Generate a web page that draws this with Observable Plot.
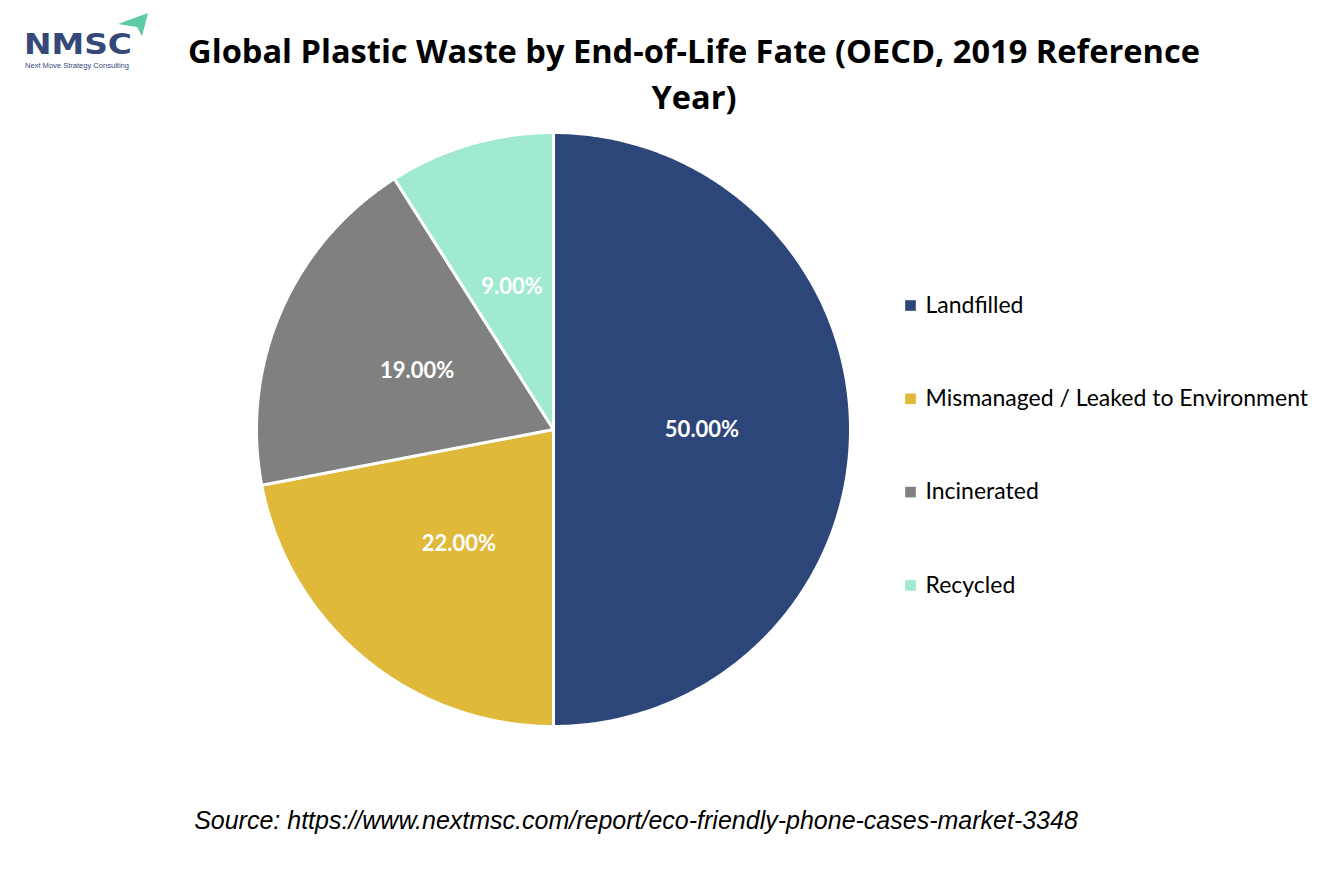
<!DOCTYPE html>
<html><head><meta charset="utf-8">
<script src="https://cdn.jsdelivr.net/npm/d3@7"></script>
<script src="https://cdn.jsdelivr.net/npm/@observablehq/plot@0.6"></script>
<style>
body{margin:0;background:#fff;}
#wrap{position:relative;width:1334px;height:889px;overflow:hidden;background:#fff;}
#title{position:absolute;left:94px;top:28px;width:1200px;text-align:center;font-family:"Open Sans",sans-serif;font-weight:700;font-size:32.6px;line-height:46px;color:#000;}
#caption{position:absolute;left:0;top:806px;width:1272px;text-align:center;font-family:"Liberation Sans",Arial,sans-serif;font-style:italic;font-size:25px;color:#000;}
#logo{position:absolute;left:20px;top:10px;}
#chart{position:absolute;left:0;top:0;}
</style></head>
<body>
<div id="wrap">
<div id="chart"></div>
<div id="title">Global Plastic Waste by End-of-Life Fate (OECD, 2019 Reference<br>Year)</div>
<div id="caption">Source: https://www.nextmsc.com/report/eco-friendly-phone-cases-market-3348</div>
<svg id="logo" width="140" height="62" viewBox="0 0 140 62">
  <text x="4" y="44" font-family="DejaVu Sans,sans-serif" font-weight="bold" font-size="29" fill="#34487a" textLength="108" lengthAdjust="spacingAndGlyphs">NMSC</text>
  <polygon points="98,14 128,3 122,26 117,17" fill="#5cc9a7"/>
  <text x="5" y="58" font-family="Liberation Sans,sans-serif" font-size="6.5" fill="#34487a" textLength="104" lengthAdjust="spacingAndGlyphs">Next Move Strategy Consulting</text>
</svg>
</div>
<script>
const categories = ["Landfilled", "Mismanaged / Leaked to Environment", "Incinerated", "Recycled"];
const values = [50, 22, 19, 9];
const colors = ["#2c4679", "#e0b83a", "#808080", "#a0ebd0"];
const labels = ["50.00%", "22.00%", "19.00%", "9.00%"];

const data = categories.map((c, i) => ({category: c, value: values[i], color: colors[i], label: labels[i]}));

// layout
const W = 1334, H = 889;
const cx = 553, cy = 429, R = 297;

const arcs = d3.pie().sort(null).value(d => d.value)(data);
const slices = [];
arcs.forEach((a, i) => {
  const n = Math.max(2, Math.ceil((a.endAngle - a.startAngle) / 0.01));
  slices.push({k: i, px: cx, py: cy, color: a.data.color});
  for (let j = 0; j <= n; j++) {
    const t = a.startAngle + (a.endAngle - a.startAngle) * j / n;
    slices.push({k: i, px: cx + R * Math.sin(t), py: cy - R * Math.cos(t), color: a.data.color});
  }
  slices.push({k: i, px: cx, py: cy, color: a.data.color});
});
const labelPts = arcs.map(a => {
  const m = (a.startAngle + a.endAngle) / 2;
  return {px: cx + 0.5 * R * Math.sin(m), py: cy - 0.5 * R * Math.cos(m), label: a.data.label};
});
const legend = data.map((d, i) => ({px: 910, py: 305 + i * 93.3, category: d.category, color: d.color}));

const marks = [];
arcs.forEach((a, i) => {
  marks.push(Plot.line(slices.filter(s => s.k === i), {x: "px", y: "py", fill: a.data.color, stroke: "white", strokeWidth: 3, strokeLinejoin: "round", curve: "linear-closed"}));
});
marks.push(Plot.text(labelPts, {x: "px", y: "py", text: "label", fill: "white", fontSize: 22, fontWeight: "bold", fontFamily: "Lato, sans-serif"}));
marks.push(Plot.dot(legend, {x: "px", y: "py", symbol: "square", r: 6, fill: "color", stroke: null}));
marks.push(Plot.text(legend, {x: d => d.px + 15, y: "py", text: "category", textAnchor: "start", fill: "#000", fontSize: 23, fontFamily: "Lato, sans-serif"}));

const chart = Plot.plot({
  width: W, height: H,
  margin: 0,
  x: {domain: [0, W], range: [0, W], axis: null},
  y: {domain: [0, H], range: [0, H], axis: null},
  color: {type: "identity"},
  style: {background: "transparent", overflow: "visible"},
  marks
});
document.getElementById("chart").appendChild(chart);
</script>
</body></html>
